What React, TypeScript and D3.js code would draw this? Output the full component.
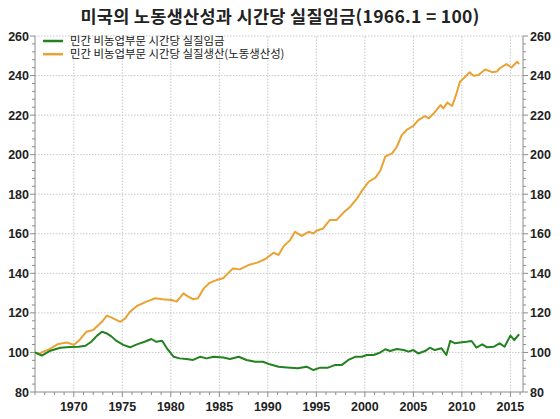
import React from "react";
import * as d3 from "d3";

// values (1966.1 = 100)
const prodYears = [
  1966.0, 1966.4, 1966.8, 1967.5, 1968.4, 1969.3, 1970.0, 1970.6, 1971.3, 1972.0,
  1972.9, 1973.4, 1973.9, 1974.8, 1975.3, 1975.8, 1976.5, 1977.5, 1978.4, 1979.1,
  1980.1, 1980.6, 1981.3, 1981.8, 1982.3, 1982.8, 1983.4, 1984.0, 1984.7, 1985.4,
  1986.4, 1987.1, 1988.0, 1988.9, 1989.7, 1990.6, 1991.1, 1991.6, 1992.3, 1992.8,
  1993.5, 1994.2, 1994.7, 1995.0, 1995.7, 1996.4, 1997.1, 1997.8, 1998.5, 1999.2,
  1999.8, 2000.4, 2001.1, 2001.6, 2002.1, 2002.8, 2003.3, 2003.8, 2004.3, 2005.0,
  2005.5, 2006.2, 2006.6, 2007.1, 2007.8, 2008.1, 2008.5, 2009.0, 2009.4, 2009.8,
  2010.3, 2010.8, 2011.2, 2011.7, 2012.4, 2013.1, 2013.6, 2013.9, 2014.6, 2015.1,
  2015.7, 2015.9,
];
const prodValues = [
  100, 99.2, 100.3, 101.7, 104.3, 105, 103.8, 106.3, 110.5, 111.3,
  115.5, 118.6, 117.6, 115.5, 117.2, 120.6, 123.5, 125.7, 127.4, 126.9,
  126.5, 125.7, 129.9, 128.2, 126.9, 127.4, 132.4, 135.2, 136.6, 137.5,
  142.5, 142, 144.2, 145.4, 147.1, 150.4, 149.3, 153.5, 156.8, 161,
  158.9, 161, 160.2, 161.5, 162.7, 167, 167, 170.7, 173.7, 177.9,
  182.5, 186.3, 188.4, 192, 199, 200.7, 204, 209.9, 212.5, 214.5,
  217.5, 219.5, 218.4, 220.9, 225.1, 223.4, 226.3, 224.6, 230.2, 236.9,
  239.1, 241.7, 239.9, 240.3, 243.1, 241.7, 242, 243.7, 245.8, 244.1,
  247, 245.8,
];

const wageYears = [
  1966.0, 1966.2, 1966.7, 1967.5, 1968.6, 1969.6, 1970.5, 1971.2, 1971.8, 1972.4,
  1972.9, 1973.4, 1973.9, 1974.4, 1975.1, 1975.8, 1976.5, 1977.3, 1978.0, 1978.5,
  1979.1, 1979.6, 1980.3, 1980.9, 1981.6, 1982.3, 1983.0, 1983.7, 1984.4, 1985.4,
  1986.1, 1987.0, 1987.8, 1988.7, 1989.5, 1990.2, 1991.1, 1992.3, 1993.1, 1994.0,
  1994.7, 1995.4, 1996.2, 1996.9, 1997.6, 1998.3, 1999.0, 1999.7, 2000.2, 2000.9,
  2001.6, 2002.1, 2002.6, 2003.3, 2004.0, 2004.5, 2005.0, 2005.5, 2006.2, 2006.7,
  2007.2, 2007.9, 2008.4, 2008.8, 2009.3, 2010.0, 2010.5, 2011.0, 2011.5, 2012.1,
  2012.6, 2013.3, 2013.9, 2014.4, 2015.0, 2015.4, 2015.9,
];
const wageValues = [
  100, 99.6, 98.4, 100.7, 102.4, 102.8, 102.9, 103.4, 105.4, 108.5,
  110.5, 109.6, 108, 105.8, 103.8, 102.6, 104.1, 105.4, 106.8, 105.4,
  105.9, 102.1, 97.8, 97, 96.7, 96.2, 97.8, 97, 97.8, 97.4,
  96.7, 97.8, 96.2, 95.3, 95.3, 94, 92.8, 92.3, 92, 92.8,
  91.1, 92.3, 92.3, 93.6, 93.6, 96.2, 97.8, 97.8, 98.7, 98.7,
  100, 101.6, 100.7, 101.7, 101.2, 100.4, 101.2, 99.5, 100.7, 102.4,
  101.2, 102.1, 98.7, 105.8, 104.6, 105.1, 105.4, 105.8, 102.4, 104.1,
  102.6, 102.9, 104.6, 102.9, 108.5, 106.3, 109.2,
];

const seriesNames = [
  "민간 비농업부문 시간당 실질임금",
  "민간 비농업부문 시간당 실질생산(노동생산성)",
];
const yearTicks = [1970, 1975, 1980, 1985, 1990, 1995, 2000, 2005, 2010, 2015];
const valueTicks = [80, 100, 120, 140, 160, 180, 200, 220, 240, 260];

const W = 560;
const H = 419;
const GREEN = "#23821f";
const ORANGE = "#e9a233";
const AXIS = "#8c8c8c";
const GRID = "#c8c8c8";
const font = "'Liberation Sans', Arial, sans-serif";
const krFont = "'Noto Sans CJK KR', 'Liberation Sans', sans-serif";

export default function App() {
  const x = d3.scaleLinear().domain([1966, 2016.3]).range([35, 523]);
  const y = d3.scaleLinear().domain([80, 260]).range([392, 36]);

  const line = d3
    .line<[number, number]>()
    .x((d) => x(d[0]))
    .y((d) => y(d[1]));

  const prod = prodYears.map((yr, i) => [yr, prodValues[i]] as [number, number]);
  const wage = wageYears.map((yr, i) => [yr, wageValues[i]] as [number, number]);

  const minorY = d3.range(80, 261, 4).filter((v) => v % 20 !== 0);
  const minorX = d3.range(1966, 2017).filter((v) => v % 5 !== 0);
  const [x0, x1] = x.range();
  const [yBottom, yTop] = y.range();

  return (
    <svg
      width={W}
      height={H}
      style={{ position: "absolute", left: 0, top: 0, background: "#fff" }}
    >
      <text
        x={W / 2}
        y={23}
        textAnchor="middle"
        fontFamily={krFont}
        fontWeight="bold"
        fontSize={17.5}
        letterSpacing={0.3}
        fill="#222"
      >
        미국의 노동생산성과 시간당 실질임금(1966.1 = 100)
      </text>

      {/* grid */}
      <g stroke={GRID} strokeWidth={1} strokeDasharray="1.5,1.5">
        {valueTicks.slice(1).map((v) => (
          <line key={"gy" + v} x1={x0} x2={x1} y1={y(v)} y2={y(v)} />
        ))}
        {yearTicks.map((v) => (
          <line key={"gx" + v} x1={x(v)} x2={x(v)} y1={yBottom} y2={yTop} />
        ))}
      </g>

      {/* axes */}
      <g stroke={AXIS} strokeWidth={1}>
        <line x1={x0} x2={x0} y1={yTop} y2={yBottom} />
        <line x1={x1} x2={x1} y1={yTop} y2={yBottom} />
        <line x1={x0} x2={x1} y1={yBottom} y2={yBottom} />
        {valueTicks.map((v) => (
          <g key={"ty" + v}>
            <line x1={x0 - 5} x2={x0} y1={y(v)} y2={y(v)} />
            <line x1={x1} x2={x1 + 5} y1={y(v)} y2={y(v)} />
          </g>
        ))}
        {minorY.map((v) => (
          <g key={"my" + v}>
            <line x1={x0 - 3} x2={x0} y1={y(v)} y2={y(v)} />
            <line x1={x1} x2={x1 + 3} y1={y(v)} y2={y(v)} />
          </g>
        ))}
        {yearTicks.map((v) => (
          <line key={"tx" + v} x1={x(v)} x2={x(v)} y1={yBottom} y2={yBottom + 5} />
        ))}
        {minorX.map((v) => (
          <line key={"mx" + v} x1={x(v)} x2={x(v)} y1={yBottom} y2={yBottom + 3} />
        ))}
      </g>

      {/* tick labels */}
      <g fontFamily={font} fontWeight="bold" fontSize={12.5} fill="#222">
        {valueTicks.map((v) => (
          <g key={"ly" + v}>
            <text x={x0 - 6} y={y(v) + 4.5} textAnchor="end">
              {v}
            </text>
            <text x={x1 + 7} y={y(v) + 4.5} textAnchor="start">
              {v}
            </text>
          </g>
        ))}
        {yearTicks.map((v) => (
          <text key={"lx" + v} x={x(v)} y={yBottom + 19} textAnchor="middle">
            {v}
          </text>
        ))}
      </g>

      {/* series */}
      <path d={line(prod) || ""} fill="none" stroke={ORANGE} strokeWidth={2} strokeLinejoin="round" />
      <path d={line(wage) || ""} fill="none" stroke={GREEN} strokeWidth={2} strokeLinejoin="round" />

      {/* legend */}
      <g fontFamily={krFont} fontSize={11.4} fill="#222">
        {[GREEN, ORANGE].map((c, i) => (
          <g key={"lg" + i} transform={`translate(43, ${41 + i * 13.2})`}>
            <line x1={0} x2={20} y1={0} y2={0} stroke={c} strokeWidth={2.5} />
            <text x={27} y={4.2}>
              {seriesNames[i]}
            </text>
          </g>
        ))}
      </g>
    </svg>
  );
}
